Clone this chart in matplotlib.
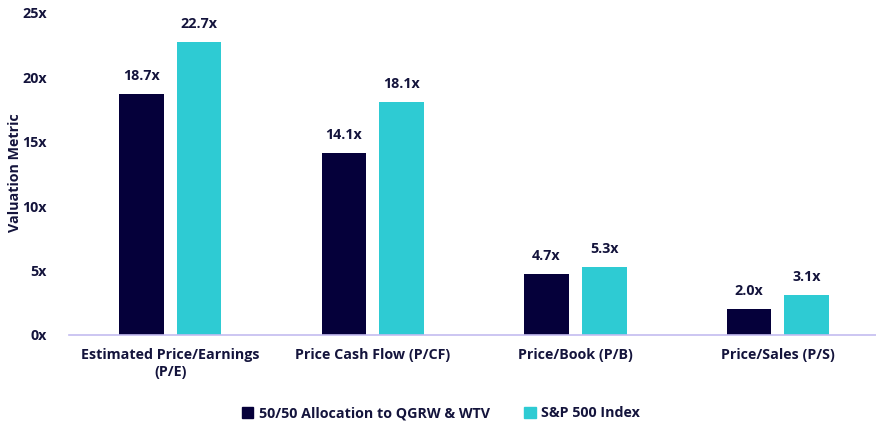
import numpy as np
import matplotlib.pyplot as plt
from matplotlib.patches import Patch

# Data
categories = ["Estimated Price/Earnings\n(P/E)", "Price Cash Flow (P/CF)",
              "Price/Book (P/B)", "Price/Sales (P/S)"]
allocation = [18.7, 14.1, 4.7, 2.0]
sp500 = [22.7, 18.1, 5.3, 3.1]
series_names = ["50/50 Allocation to QGRW & WTV", "S&P 500 Index"]

dark = "#05003a"
cyan = "#2ecbd3"
text_col = "#14143c"

plt.rcParams['font.family'] = ['Open Sans', 'DejaVu Sans']
plt.rcParams['font.weight'] = 'bold'
fs = 10.3

fig = plt.figure(figsize=(8.76, 4.33), dpi=100)
W, H = 876, 433
ax = fig.add_axes([69 / W, 1 - 335 / H, (876 - 69) / W, (335 - 10) / H])

x = np.arange(len(categories))
bw = 0.22
off = 0.143
b1 = ax.bar(x - off, allocation, bw, color=dark)
b2 = ax.bar(x + off, sp500, bw, color=cyan)

for bars, vals in [(b1, allocation), (b2, sp500)]:
    for r, v in zip(bars, vals):
        ax.text(r.get_x() + r.get_width() / 2, v + 0.85, f"{v:.1f}x",
                ha='center', va='bottom', fontsize=fs, fontweight='bold',
                color=text_col)

ax.set_xlim(-0.5, 3.485)
ax.set_ylim(0, 25.2)
ax.set_yticks(range(0, 26, 5))
ax.set_yticklabels([f"{t}x" for t in range(0, 26, 5)])
ax.set_xticks(x)
ax.set_xticklabels(categories, linespacing=1.3)
ax.tick_params(axis='both', length=0, labelsize=fs, colors=text_col)
ax.tick_params(axis='y', pad=16)
ax.tick_params(axis='x', pad=9)
for lab in ax.get_xticklabels() + ax.get_yticklabels():
    lab.set_fontweight('bold')

for s in ['top', 'right', 'left']:
    ax.spines[s].set_visible(False)
ax.spines['bottom'].set_color('#c4bcf0')
ax.spines['bottom'].set_linewidth(1.2)

ax.set_ylabel("Valuation Metric", fontsize=fs, fontweight='bold',
              color=text_col)
ax.yaxis.set_label_coords(-47 / (876 - 69), 0.5)

handles = [Patch(color=dark), Patch(color=cyan)]
leg = fig.legend(handles, series_names, loc='center', bbox_to_anchor=(441 / W, 1 - 413 / H),
                 ncol=2, frameon=False, fontsize=fs, handlelength=0.8,
                 handleheight=0.8, handletextpad=0.4, columnspacing=2.4)
for t in leg.get_texts():
    t.set_color(text_col)
    t.set_fontweight('bold')

fig.savefig("out.png", dpi=100)
